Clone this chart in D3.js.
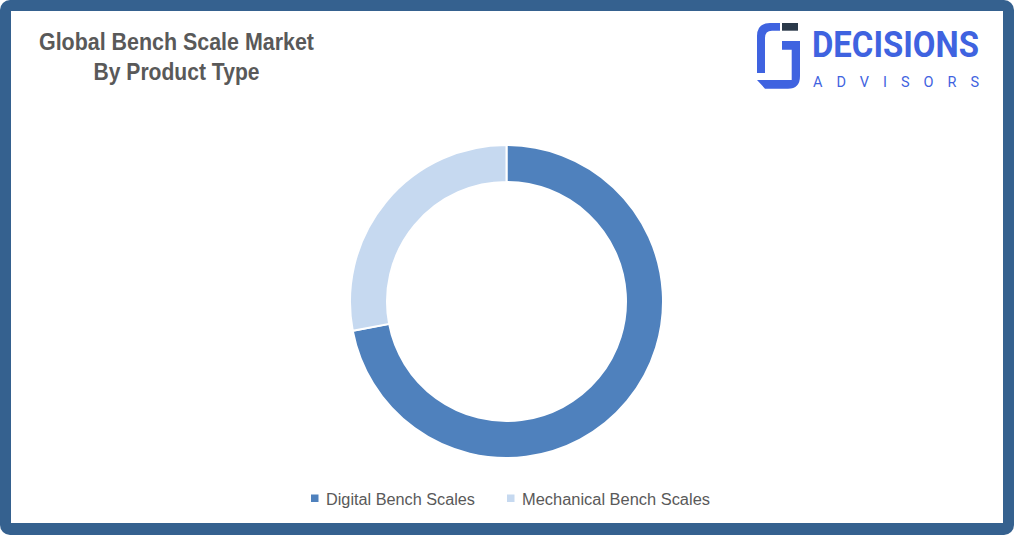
<!DOCTYPE html>
<html>
<head>
<meta charset="utf-8">
<script src="https://cdn.jsdelivr.net/npm/d3@7"></script>
<style>
  html, body { margin: 0; padding: 0; background: #fff; }
  svg { display: block; }
</style>
</head>
<body>
<svg id="chart" width="1014" height="535"></svg>
<script>
const categories = ["Digital Bench Scales", "Mechanical Bench Scales"];
const values = [72, 28];
const colors = ["#4f81bd", "#c6d9f0"];
const titleLines = ["Global Bench Scale Market", "By Product Type"];

const svg = d3.select("#chart");
const W = 1014, H = 535;

// frame
svg.append("rect").attr("x", 0).attr("y", 0).attr("width", W).attr("height", H)
  .attr("rx", 10).attr("fill", "#35618f");
svg.append("rect").attr("x", 11).attr("y", 11).attr("width", 992).attr("height", 512)
  .attr("fill", "#ffffff");

// title
const title = svg.append("g");
title.selectAll("text").data(titleLines).join("text")
  .attr("x", 176.5)
  .attr("y", (d, i) => 49.5 + i * 30)
  .attr("text-anchor", "middle")
  .attr("font-family", "'Liberation Sans', Arial, sans-serif")
  .attr("font-weight", "bold")
  .attr("font-size", 23)
  .attr("fill", "#595959")
  .attr("textLength", (d, i) => i === 0 ? 275 : 166)
  .attr("lengthAdjust", "spacingAndGlyphs")
  .text(d => d);

// logo
const logo = svg.append("g");
const blue = "#3f63e0";
logo.append("path").attr("fill", blue)
  .attr("d", "M780,23 L770,23 Q757,23 757,36 L757,73 L765,73 L765,38 Q765,30.7 772,30.7 L780,30.7 Z");
logo.append("path").attr("fill", blue)
  .attr("d", "M782,41 L800,41 L800,76 Q800,88.7 788,88.7 L765,88.7 L757,80 L791.7,80 L791.7,49.7 L782,49.7 Z");
logo.append("rect").attr("x", 782).attr("y", 23).attr("width", 16).attr("height", 7.7).attr("fill", "#2b3a4a");
logo.append("text").attr("x", 812).attr("y", 56.7)
  .attr("font-family", "Roboto, 'Liberation Sans', sans-serif")
  .attr("font-weight", "bold").attr("font-size", 36).attr("fill", blue)
  .attr("textLength", 167).attr("lengthAdjust", "spacingAndGlyphs")
  .text("DECISIONS");
logo.append("text").attr("x", 813).attr("y", 87)
  .attr("font-family", "Roboto, 'Liberation Sans', sans-serif")
  .attr("font-size", 14.5).attr("fill", blue)
  .attr("textLength", 166).attr("lengthAdjust", "spacing")
  .text("ADVISORS");

// donut
const cx = 506.5, cy = 301.5, rOuter = 156.5, rInner = 119.5;
const pie = d3.pie().sort(null).value(d => d)(values);
const arc = d3.arc().innerRadius(rInner).outerRadius(rOuter);
svg.append("g").attr("transform", `translate(${cx},${cy})`)
  .selectAll("path").data(pie).join("path")
  .attr("d", arc)
  .attr("fill", (d, i) => colors[i])
  .attr("stroke", "#ffffff")
  .attr("stroke-width", 2);

// legend
const legendX = [311, 507];
const legendW = [149, 188];
const legend = svg.append("g");
categories.forEach((c, i) => {
  legend.append("rect").attr("x", legendX[i]).attr("y", 494.5)
    .attr("width", 7.5).attr("height", 7.5).attr("fill", colors[i]);
  legend.append("text").attr("x", legendX[i] + 15).attr("y", 505)
    .attr("font-family", "'Liberation Sans', Arial, sans-serif")
    .attr("font-size", 16).attr("fill", "#595959")
    .attr("textLength", legendW[i]).attr("lengthAdjust", "spacingAndGlyphs")
    .text(c);
});
</script>
</body>
</html>
